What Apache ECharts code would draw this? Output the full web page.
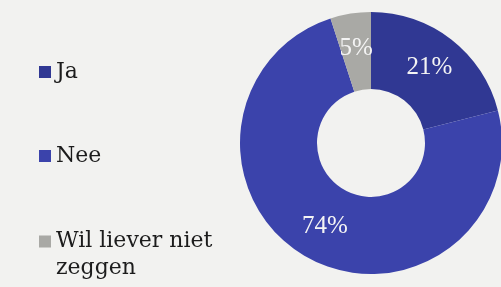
<!DOCTYPE html>
<html>
<head>
<meta charset="utf-8">
<script src="https://cdn.jsdelivr.net/npm/echarts@6/dist/echarts.min.js"></script>
<style>
  html, body { margin: 0; padding: 0; background: #f2f2f0; }
  #chart { width: 501px; height: 287px; }
</style>
</head>
<body>
<div id="chart"></div>
<script>
// data
const categories = ['Ja', 'Nee', 'Wil liever niet zeggen'];
const values = [21, 74, 5];
const colors = ['#303893', '#3b43ab', '#a9a9a5'];

const mychart = echarts.init(document.getElementById('chart'));

const serif = 'DejaVu Serif';
const legendText = { color: '#1c1c1c', fontFamily: serif, fontSize: 22 };

const option = {
  backgroundColor: '#f2f2f0',
  legend: [
    {
      // Ja + Nee
      data: categories.slice(0, 2),
      orient: 'vertical',
      left: 34,
      top: 56,
      itemGap: 62,
      icon: 'rect',
      itemWidth: 12,
      itemHeight: 12,
      itemStyle: { borderWidth: 0 },
      textStyle: legendText,
      selectedMode: false
    },
    {
      // third item wraps on two lines; a blank first line keeps the icon level with "Wil liever niet"
      data: categories.slice(2),
      orient: 'vertical',
      left: 34,
      top: 196,
      icon: 'rect',
      itemWidth: 12,
      itemHeight: 12,
      itemStyle: { borderWidth: 0 },
      textStyle: Object.assign({}, legendText, { lineHeight: 27 }),
      formatter: function (name) {
        return name === 'Wil liever niet zeggen' ? ' \nWil liever niet\nzeggen' : name;
      },
      selectedMode: false
    }
  ],
  series: [
    {
      type: 'pie',
      center: [371, 143],
      radius: [54, 131],
      startAngle: 90,
      clockwise: true,
      silent: true,
      label: {
        show: true,
        position: 'inside',
        formatter: '{c}%',
        color: '#f4f4f4',
        fontFamily: 'Liberation Serif',
        fontSize: 25
      },
      labelLine: { show: false },
      itemStyle: { borderWidth: 0 },
      data: categories.map((c, i) => ({
        name: c,
        value: values[i],
        itemStyle: { color: colors[i] }
      }))
    }
  ]
};

mychart.setOption(option);
</script>
</body>
</html>
